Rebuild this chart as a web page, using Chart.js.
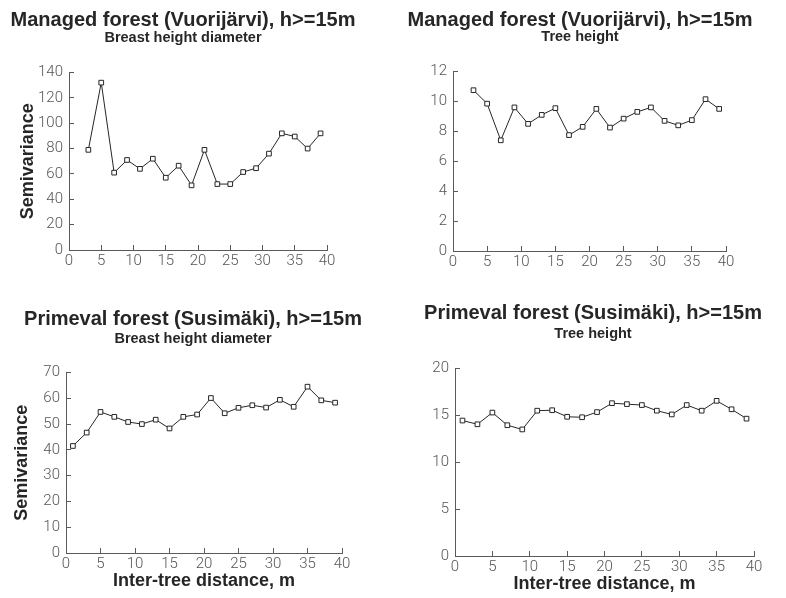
<!DOCTYPE html>
<html>
<head>
<meta charset="utf-8">
<title>Semivariograms, h>=15m</title>
<script src="https://cdn.jsdelivr.net/npm/chart.js@4.4.1/dist/chart.umd.min.js"></script>
<style>
  html, body { margin: 0; padding: 0; background: #ffffff; }
  #sheet { position: relative; width: 786px; height: 598px; overflow: hidden; }
  .panel { position: absolute; }
  canvas { display: block; }
</style>
</head>
<body>
<div id="sheet">
  <div class="panel" style="left:0px;top:0px"><canvas id="managedDbh" width="393" height="290"></canvas></div>
  <div class="panel" style="left:393px;top:0px"><canvas id="managedHeight" width="393" height="290"></canvas></div>
  <div class="panel" style="left:0px;top:290px"><canvas id="primevalDbh" width="393" height="308"></canvas></div>
  <div class="panel" style="left:393px;top:290px"><canvas id="primevalHeight" width="393" height="308"></canvas></div>
</div>
<script>
// Lag distances (inter-tree distance, m)
const lagsManaged  = [3, 5, 7, 9, 11, 13, 15, 17, 19, 21, 23, 25, 27, 29, 31, 33, 35, 37, 39];
const lagsPrimeval = [1, 3, 5, 7, 9, 11, 13, 15, 17, 19, 21, 23, 25, 27, 29, 31, 33, 35, 37, 39];

// Semivariance values
const managedDbhGamma    = [79, 132, 61, 71, 64, 72, 57, 66.5, 51, 79, 52, 52, 61.5, 64.5, 76, 92, 89.5, 80, 92];
const managedHeightGamma = [10.75, 9.85, 7.4, 9.6, 8.5, 9.1, 9.55, 7.75, 8.3, 9.5, 8.25, 8.85, 9.3, 9.6, 8.7, 8.4, 8.75, 10.15, 9.5];
const primevalDbhGamma   = [41.5, 46.7, 54.7, 52.8, 50.8, 50.0, 51.7, 48.3, 52.8, 53.7, 60.1, 54.2, 56.3, 57.3, 56.4, 59.4, 56.7, 64.5, 59.2, 58.3];
const primevalHeightGamma= [14.45, 14.05, 15.3, 13.95, 13.5, 15.5, 15.55, 14.85, 14.8, 15.35, 16.3, 16.2, 16.1, 15.5, 15.1, 16.1, 15.5, 16.55, 15.65, 14.65];

// Axis ranges and tick steps
const xRange = [0, 40];
const xStep = 5;
const yRangeManagedDbh     = [0, 140]; const yStepManagedDbh = 20;
const yRangeManagedHeight  = [0, 12];  const yStepManagedHeight = 2;
const yRangePrimevalDbh    = [0, 70];  const yStepPrimevalDbh = 10;
const yRangePrimevalHeight = [0, 20];  const yStepPrimevalHeight = 5;

// Text
const titleManaged  = 'Managed forest (Vuorijärvi), h>=15m';
const titlePrimeval = 'Primeval forest (Susimäki), h>=15m';
const subDbh    = 'Breast height diameter';
const subHeight = 'Tree height';
const yLabel = 'Semivariance';
const xLabel = 'Inter-tree distance, m';

const INK = '#262626';
const AXIS = '#5a5a5a';
const TICKTXT = '#555555';
const BOLD = 'Liberation Sans, Arial, Helvetica, sans-serif';
const LIGHT = 'Roboto, Liberation Sans, sans-serif';

function pairs(xs, ys) { return xs.map((x, i) => ({ x: x, y: ys[i] })); }

function makePanel(id, o) {
  const tickFont = { family: LIGHT, size: 15, weight: 300 };
  new Chart(document.getElementById(id), {
    type: 'line',
    data: {
      datasets: [{
        data: pairs(o.lags, o.values),
        borderColor: INK,
        borderWidth: 1,
        pointStyle: 'rect',
        pointRadius: 3.3,
        pointBorderWidth: 1,
        pointBackgroundColor: '#ffffff',
        pointBorderColor: INK,
        tension: 0,
        fill: false
      }]
    },
    options: {
      responsive: false,
      animation: false,
      events: [],
      layout: { padding: o.pad },
      plugins: {
        legend: { display: false },
        tooltip: { enabled: false },
        title: {
          display: true,
          text: o.title,
          color: INK,
          font: { family: BOLD, size: 20, weight: 'bold', lineHeight: 1.0 },
          padding: { top: o.titlePad[0], bottom: o.titlePad[1] }
        },
        subtitle: {
          display: true,
          text: o.subtitle,
          color: INK,
          font: { family: BOLD, size: 14.5, weight: 'bold', lineHeight: 1.0 },
          padding: { top: 0, bottom: o.subPadBottom }
        }
      },
      scales: {
        x: {
          type: 'linear',
          position: 'bottom',
          min: xRange[0], max: xRange[1],
          ticks: { stepSize: xStep, padding: 7, color: TICKTXT, font: tickFont, maxRotation: 0 },
          grid: { display: true, drawOnChartArea: false, drawTicks: true, tickLength: -5, tickColor: AXIS, tickWidth: 1 },
          border: { display: true, color: AXIS, width: 1 },
          title: o.xTitle ? {
            display: true, text: xLabel, color: INK,
            font: { family: BOLD, size: 18, weight: 'bold' },
            padding: { top: 0, bottom: o.xTitlePad }
          } : { display: false },
          afterFit: s => { s.height = o.xHeight; }
        },
        y: {
          type: 'linear',
          position: 'left',
          min: o.yRange[0], max: o.yRange[1],
          ticks: { stepSize: o.yStep, padding: 11, color: TICKTXT, font: tickFont },
          grid: { display: true, drawOnChartArea: false, drawTicks: true, tickLength: -5, tickColor: AXIS, tickWidth: 1 },
          border: { display: true, color: AXIS, width: 1 },
          title: o.yTitle ? {
            display: true, text: yLabel, color: INK,
            font: { family: BOLD, size: 18, weight: 'bold' },
            padding: { top: o.yTitlePad, bottom: 0 }
          } : { display: false },
          afterFit: s => { s.width = o.yWidth; }
        },
        // empty right-hand band that keeps the heading centred over the whole panel
        gap: {
          type: 'linear',
          position: 'right',
          display: true,
          ticks: { display: false },
          grid: { display: false },
          border: { display: false },
          title: { display: false },
          afterFit: s => { s.width = o.gap; }
        }
      }
    }
  });
}

makePanel('managedDbh', {
  lags: lagsManaged, values: managedDbhGamma,
  title: titleManaged, subtitle: subDbh,
  yRange: yRangeManagedDbh, yStep: yStepManagedDbh,
  pad: { left: 10, right: 37, top: 0, bottom: 10 },
  titlePad: [10, 1], subPadBottom: 27,
  yWidth: 59, xHeight: 30, gap: 29,
  yTitle: true, yTitlePad: 7, xTitle: false
});

makePanel('managedHeight', {
  lags: lagsManaged, values: managedHeightGamma,
  title: titleManaged, subtitle: subHeight,
  yRange: yRangeManagedHeight, yStep: yStepManagedHeight,
  pad: { left: 10, right: 29, top: 0, bottom: 9 },
  titlePad: [10, 0], subPadBottom: 27,
  yWidth: 50, xHeight: 30, gap: 31,
  yTitle: false, xTitle: false
});

makePanel('primevalDbh', {
  lags: lagsPrimeval, values: primevalDbhGamma,
  title: titlePrimeval, subtitle: subDbh,
  yRange: yRangePrimevalDbh, yStep: yStepPrimevalDbh,
  pad: { left: 5, right: 12, top: 0, bottom: 3 },
  titlePad: [19, 3], subPadBottom: 26,
  yWidth: 61, xHeight: 42, gap: 39,
  yTitle: true, yTitlePad: 6, xTitle: true, xTitlePad: 3
});

makePanel('primevalHeight', {
  lags: lagsPrimeval, values: primevalHeightGamma,
  title: titlePrimeval, subtitle: subHeight,
  yRange: yRangePrimevalHeight, yStep: yStepPrimevalHeight,
  pad: { left: 10, right: 3, top: 0, bottom: 2 },
  titlePad: [13, 4], subPadBottom: 27,
  yWidth: 52, xHeight: 40, gap: 29,
  yTitle: false, xTitle: true, xTitlePad: 1
});
</script>
</body>
</html>
